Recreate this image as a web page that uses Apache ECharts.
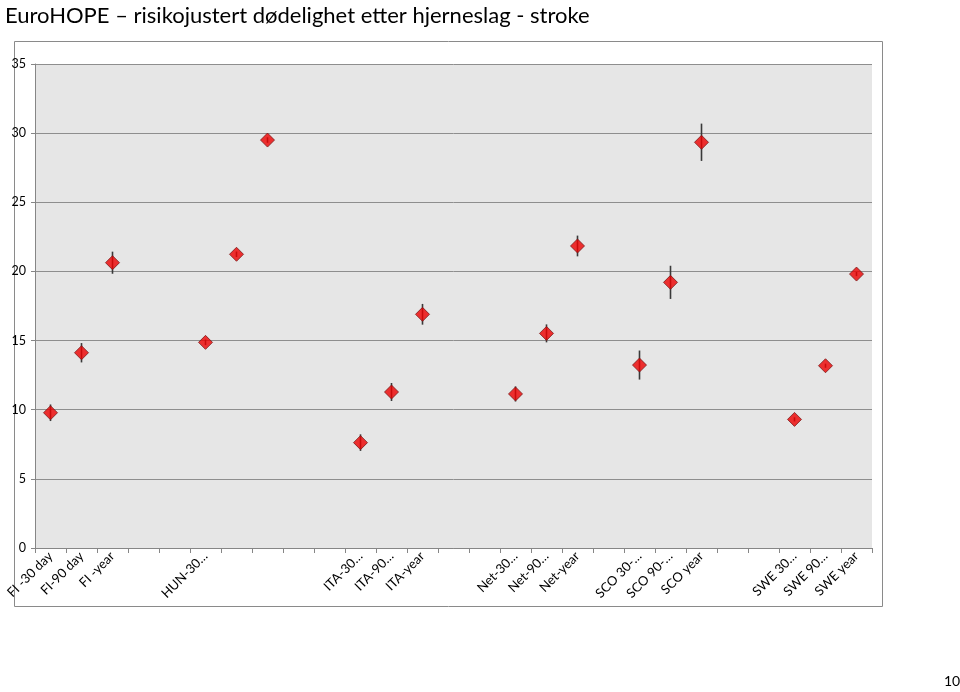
<!DOCTYPE html>
<html>
<head>
<meta charset="utf-8">
<script src="https://cdn.jsdelivr.net/npm/echarts@6/dist/echarts.min.js"></script>
<style>
html,body{margin:0;padding:0;background:#fff;}
#chart{width:960px;height:692px;}
</style>
</head>
<body>
<div id="chart"></div>
<script>
const titleText = 'EuroHOPE – risikojustert dødelighet etter hjerneslag - stroke';
const pageNumber = '10';
const categories = [
  'FI -30 day','FI-90 day','FI -year','', '', 'HUN-30…','', '', '', '',
  'ITA-30…','ITA-90…','ITA-year','', '', 'Net-30…','Net-90…','Net-year','',
  'SCO 30-…','SCO 90-…','SCO year','', '', 'SWE 30…','SWE 90…','SWE year'
];
const values = [
  9.78, 14.12, 20.63, null, null, 14.87, 21.24, 29.5, null, null,
  7.62, 11.28, 16.9, null, null, 11.14, 15.52, 21.84, null,
  13.23, 19.21, 29.34, null, null, 9.3, 13.18, 19.81
];
const errors = [
  0.6, 0.7, 0.8, null, null, 0.2, 0.2, 0.2, null, null,
  0.6, 0.65, 0.75, null, null, 0.55, 0.65, 0.75, null,
  1.05, 1.2, 1.35, null, null, 0.15, 0.15, 0.15
];
const yTicks = [0, 5, 10, 15, 20, 25, 30, 35];

const font = 'Lato, "Open Sans", sans-serif';
const scatterData = values.map((v, i) => v == null ? null : [i, v]);
const errData = values.map((v, i) => v == null ? null : [i, v - errors[i], v + errors[i]]).filter(d => d);

const chart = echarts.init(document.getElementById('chart'), null, {renderer: 'canvas'});
chart.setOption({
  animation: false,
  backgroundColor: '#ffffff',
  title: {
    text: titleText, left: 0, top: 0,
    textStyle: {fontFamily: font, fontWeight: 'normal', fontSize: 22, color: '#000'}
  },
  graphic: [
    {type: 'rect', shape: {x: 14.5, y: 41.5, width: 868, height: 565}, style: {fill: 'none', stroke: '#8a8a8a', lineWidth: 1}, z: -10},
    {type: 'text', left: 944, top: 674, style: {text: pageNumber, fontFamily: font, fontSize: 14, fill: '#000'}}
  ],
  grid: {left: 35, right: 88, top: 64, bottom: 144, show: true, backgroundColor: '#e6e6e6', borderWidth: 0},
  xAxis: {
    type: 'category', data: categories, boundaryGap: true,
    axisLine: {show: true, lineStyle: {color: '#868686', width: 1}},
    axisTick: {show: true, interval: 0, length: 5, inside: false, lineStyle: {color: '#868686'}},
    axisLabel: {interval: 0, rotate: 45, margin: 6, fontFamily: font, fontSize: 13, color: '#000'},
    splitLine: {show: false}
  },
  yAxis: {
    type: 'value', min: yTicks[0], max: yTicks[yTicks.length - 1], interval: 5,
    axisLine: {show: true, lineStyle: {color: '#868686', width: 1}},
    axisTick: {show: true, length: 4, lineStyle: {color: '#868686'}},
    axisLabel: {margin: 9, fontFamily: font, fontSize: 12.5, color: '#000'},
    splitLine: {show: true, lineStyle: {color: '#8e8e8e', width: 1}}
  },
  series: [
    {
      type: 'custom',
      data: errData,
      z: 2,
      renderItem: function (params, api) {
        const x = api.value(0);
        const lo = api.coord([x, api.value(1)]);
        const hi = api.coord([x, api.value(2)]);
        return {type: 'line', shape: {x1: lo[0], y1: lo[1], x2: hi[0], y2: hi[1]}, style: {stroke: '#3a3a3a', lineWidth: 1.6}};
      }
    },
    {
      type: 'scatter',
      data: scatterData,
      symbol: 'diamond',
      symbolSize: [14, 14],
      z: 3,
      itemStyle: {color: '#ee0000', borderColor: '#7a1a1a', borderWidth: 1}
    }
  ]
});
</script>
</body>
</html>
